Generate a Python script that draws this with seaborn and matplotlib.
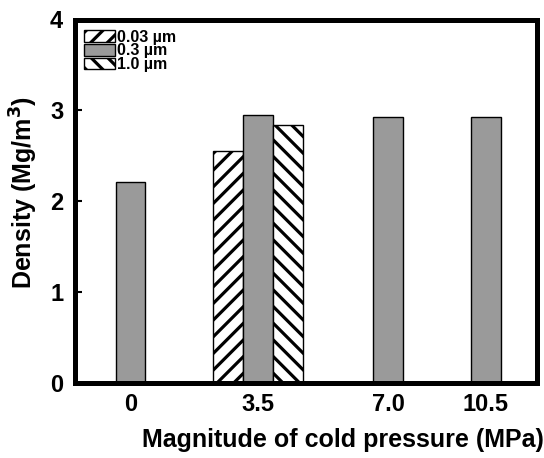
import matplotlib
matplotlib.use("Agg")
import matplotlib.pyplot as plt
import seaborn as sns
import pandas as pd

# ---- data ----
pressure = ["0", "3.5", "3.5", "3.5", "7.0", "10.5"]
particle = ["0.3 µm", "0.03 µm", "0.3 µm", "1.0 µm", "0.3 µm", "0.3 µm"]
density = [2.21, 2.55, 2.95, 2.84, 2.93, 2.93]
sizes = ["0.03 µm", "0.3 µm", "1.0 µm"]
pressure_labels = ["0", "3.5", "7.0", "10.5"]
y_ticks = [0, 1, 2, 3, 4]

# ---- layout / style (not data) ----
group_slot = {"0": 0.0, "3.5": 1.275, "7.0": 2.575, "10.5": 3.555}
face = {"0.03 µm": "white", "0.3 µm": "#9a9a9a", "1.0 µm": "white"}
hatch = {"0.03 µm": "//", "0.3 µm": None, "1.0 µm": "\\\\"}

sns.set_style("white")
plt.rcParams["font.family"] = ["Liberation Sans", "DejaVu Sans"]
plt.rcParams["font.weight"] = "bold"
plt.rcParams["hatch.linewidth"] = 2.3
plt.rcParams["hatch.color"] = "black"
for k in ["text.color", "axes.labelcolor", "xtick.color", "ytick.color",
          "axes.edgecolor"]:
    plt.rcParams[k] = "black"

df = pd.DataFrame({"pressure": pressure, "size": particle, "density": density})
df["slot"] = df["pressure"].map(group_slot)

fig = plt.figure(figsize=(5.44, 4.58), dpi=100)
ax = fig.add_axes([75 / 544, 1 - 383 / 458, 462 / 544, 363.5 / 458])

sns.barplot(data=df, x="slot", y="density", hue="size", hue_order=sizes,
            palette=face, native_scale=True, width=0.918, errorbar=None,
            edgecolor="black", linewidth=1.0, legend=False, ax=ax)

for cont, s in zip(ax.containers, sizes):
    for p in cont.patches:
        if hatch[s]:
            p.set_hatch(hatch[s])
        p.set_facecolor(face[s])
        p.set_edgecolor("black")

ax.set_xlim(-0.555, 4.065)
ax.set_ylim(0, 4)
ax.set_xticks([group_slot[k] for k in pressure_labels])
ax.set_xticklabels(pressure_labels)
ax.set_yticks(y_ticks)
ax.set_yticklabels([str(v) for v in y_ticks])

for sp in ax.spines.values():
    sp.set_visible(True)
    sp.set_linewidth(3.6)
    sp.set_color("black")

ax.tick_params(axis="y", direction="in", length=5, width=1.5, pad=8.5,
               labelsize=17, left=True, colors="black")
ax.tick_params(axis="x", length=0, pad=7, labelsize=17, colors="black")
for t in ax.get_xticklabels() + ax.get_yticklabels():
    t.set_fontweight("bold")

ax.set_xlabel("Magnitude of cold pressure (MPa)", fontsize=18,
              fontweight="bold", color="black")
ax.set_ylabel("Density (Mg/m$\\mathbf{^3}$)", fontsize=18,
              fontweight="bold", color="black")
ax.xaxis.set_label_coords(0.58, -0.123)
ax.xaxis.label.set_va("top")
ax.yaxis.set_label_coords(-0.075, 0.523)

leg = ax.legend(handles=list(ax.containers), labels=sizes, loc="upper left",
                bbox_to_anchor=(0.02, 0.972), frameon=False, borderpad=0,
                borderaxespad=0, handlelength=1.9, handleheight=0.75,
                handletextpad=0.15, labelspacing=-0.08,
                prop={"size": 11.5, "weight": "bold"})
for t in leg.get_texts():
    t.set_color("black")

fig.savefig("out.png", dpi=100)
